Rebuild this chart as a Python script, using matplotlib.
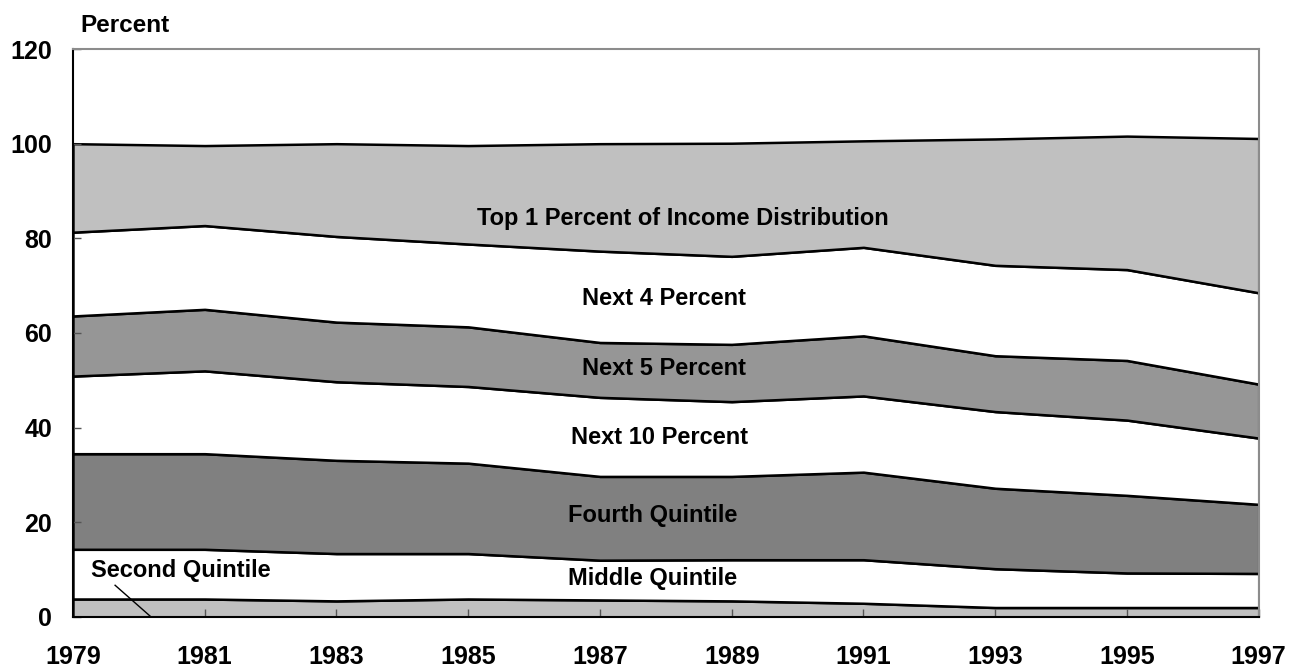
import numpy as np
from matplotlib import pyplot as plt

plt.rcParams['font.family'] = ['Liberation Sans', 'DejaVu Sans']
plt.rcParams['font.weight'] = 'bold'

years = [1979, 1981, 1983, 1985, 1987, 1989, 1991, 1993, 1995, 1997]

# income shares (percent), bottom group first
second_quintile = [3.8, 3.8, 3.4, 3.8, 3.6, 3.4, 2.9, 2.0, 2.0, 2.0]
middle_quintile = [10.5, 10.5, 10.0, 9.6, 8.4, 8.7, 9.2, 8.2, 7.3, 7.2]
fourth_quintile = [20.2, 20.2, 19.7, 19.1, 17.7, 17.6, 18.5, 17.0, 16.4, 14.6]
next_10 = [16.4, 17.5, 16.6, 16.2, 16.7, 15.8, 16.1, 16.2, 15.9, 14.0]
next_5 = [12.7, 13.0, 12.6, 12.6, 11.6, 12.1, 12.7, 11.8, 12.6, 11.4]
next_4 = [17.7, 17.7, 18.1, 17.5, 19.3, 18.6, 18.7, 19.1, 19.2, 19.3]
top_1 = [18.7, 16.9, 19.6, 20.8, 22.7, 23.9, 22.5, 26.7, 28.2, 32.6]

groups = [second_quintile, middle_quintile, fourth_quintile, next_10,
          next_5, next_4, top_1]
colors = ['#C0C0C0', 'white', '#808080', 'white', '#969696', 'white', '#C0C0C0']

fig = plt.figure(figsize=(12.91, 6.67), dpi=100)
ax = fig.add_axes([0.0565, 0.075, 0.9185, 0.8515])

ax.stackplot(years, *groups, colors=colors, edgecolor='black', linewidth=1.8)

ax.set_xlim(1979, 1997)
ax.set_ylim(0, 120)
ax.set_xticks(years)
ax.set_yticks(range(0, 121, 20))
ax.tick_params(axis='both', direction='in', length=6, labelsize=18, width=1,
               color='#555555')
ax.tick_params(axis='y', pad=15)
ax.tick_params(axis='x', pad=20)
for lab in ax.get_xticklabels() + ax.get_yticklabels():
    lab.set_fontweight('bold')

ax.spines['left'].set_color('black')
ax.spines['bottom'].set_color('black')
ax.spines['left'].set_linewidth(1.5)
ax.spines['bottom'].set_linewidth(1.5)
ax.spines['top'].set_color('#8c8c8c')
ax.spines['right'].set_color('#8c8c8c')
ax.spines['top'].set_linewidth(1.5)
ax.spines['right'].set_linewidth(1.5)

fig.text(0.0968, 0.9625, 'Percent', fontsize=17.5, fontweight='bold',
         ha='center', va='center')

lab_kw = dict(fontsize=17, fontweight='bold', ha='center', va='center')
ax.text(1988.26, 84.2, 'Top 1 Percent of Income Distribution', **lab_kw)
ax.text(1987.97, 67.2, 'Next 4 Percent', **lab_kw)
ax.text(1987.97, 52.4, 'Next 5 Percent', **lab_kw)
ax.text(1987.9, 37.9, 'Next 10 Percent', **lab_kw)
ax.text(1987.8, 21.5, 'Fourth Quintile', **lab_kw)
ax.text(1987.8, 8.2, 'Middle Quintile', **lab_kw)
ax.text(1980.64, 9.9, 'Second Quintile', **lab_kw)
ax.plot([1979.64, 1980.17], [6.7, 0.2], color='black', linewidth=1)

fig.savefig('out.png', dpi=100)
